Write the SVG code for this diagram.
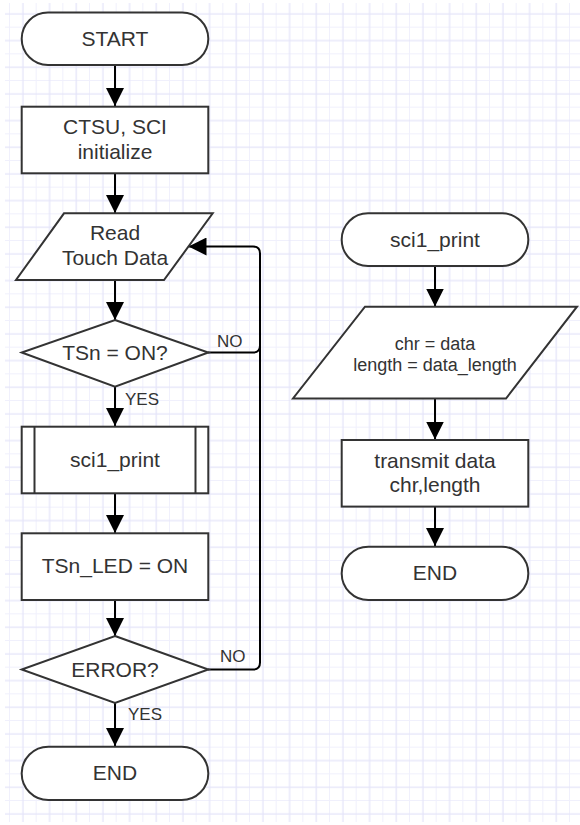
<svg xmlns="http://www.w3.org/2000/svg" width="580" height="825" viewBox="0 0 580 825">
<style>
.shape{fill:#ffffff;stroke:#333333;stroke-width:2;}
.conn{fill:none;stroke:#000000;stroke-width:2;}
.t{font-family:"Liberation Sans",Arial,sans-serif;font-size:21px;fill:#333333;text-anchor:middle;}
.ts{font-family:"Liberation Sans",Arial,sans-serif;font-size:18px;fill:#333333;text-anchor:middle;}
.lbl{font-family:"Liberation Sans",Arial,sans-serif;font-size:17px;fill:#333333;}
</style>
<defs>
<pattern id="grid" patternUnits="userSpaceOnUse" x="9" y="0" width="26.667" height="26.667">
<rect x="0" y="0" width="1" height="26.667" fill="#f0f0fc"/>
<rect x="0" y="0" width="26.667" height="1" fill="#f0f0fc"/>
<rect x="13.333" y="0" width="1.2" height="26.667" fill="#e4e4f9"/>
<rect x="0" y="13.333" width="26.667" height="1.2" fill="#e4e4f9"/>
</pattern>
<marker id="arr" markerUnits="userSpaceOnUse" markerWidth="18" markerHeight="18" viewBox="0 0 16 16" refX="16" refY="8" orient="auto">
<path d="M0,0 L16,8 L0,16 Z" fill="#000000"/>
</marker>
</defs>
<rect x="0" y="0" width="580" height="825" fill="#ffffff"/>
<rect x="5" y="3" width="575" height="819" fill="url(#grid)"/>

<g id="connectors">
<line class="conn" x1="115" y1="65" x2="115" y2="106" marker-end="url(#arr)"/>
<line class="conn" x1="115" y1="173" x2="115" y2="213" marker-end="url(#arr)"/>
<line class="conn" x1="115" y1="280" x2="115" y2="320" marker-end="url(#arr)"/>
<line class="conn" x1="115" y1="387" x2="115" y2="426" marker-end="url(#arr)"/>
<line class="conn" x1="115" y1="493" x2="115" y2="533" marker-end="url(#arr)"/>
<line class="conn" x1="115" y1="600" x2="115" y2="636" marker-end="url(#arr)"/>
<line class="conn" x1="115" y1="703" x2="115" y2="746" marker-end="url(#arr)"/>
<path class="conn" d="M208,669.5 H253 Q260,669.5 260,662.5 V253.5 Q260,246.5 253,246.5 H188.5" marker-end="url(#arr)"/>
<path class="conn" d="M208,352.5 H253 Q260,352.5 260,345.5"/>
<line class="conn" x1="435" y1="266" x2="435" y2="306.5" marker-end="url(#arr)"/>
<line class="conn" x1="435" y1="398.5" x2="435" y2="439.5" marker-end="url(#arr)"/>
<line class="conn" x1="435" y1="506.5" x2="435" y2="546" marker-end="url(#arr)"/>
<text class="lbl" x="217" y="346.5">NO</text>
<text class="lbl" x="125" y="405">YES</text>
<text class="lbl" x="220" y="661.5">NO</text>
<text class="lbl" x="128" y="720">YES</text>
</g>

<g id="start">
<rect class="shape" x="21.7" y="12.5" width="186.6" height="52.5" rx="26.25" ry="26.25"/>
<text class="t" x="115" y="45.8">START</text>
</g>
<g id="init">
<rect class="shape" x="21.7" y="106.7" width="186.6" height="66.6"/>
<text class="t" x="115" y="133.5">CTSU, SCI</text>
<text class="t" x="115" y="158.5">initialize</text>
</g>
<g id="read">
<polygon class="shape" points="64,213.3 212.7,213.3 164,280 16,280"/>
<text class="t" x="115" y="240">Read</text>
<text class="t" x="115" y="264.5">Touch Data</text>
</g>
<g id="tsn_on">
<polygon class="shape" points="115,320 208.3,352.5 115,386.7 21.7,352.5"/>
<text class="t" x="115" y="359.5">TSn = ON?</text>
</g>
<g id="sci1_call">
<rect class="shape" x="21.7" y="426.7" width="186.6" height="66.6"/>
<line class="shape" x1="34.5" y1="426.7" x2="34.5" y2="493.3"/>
<line class="shape" x1="195.5" y1="426.7" x2="195.5" y2="493.3"/>
<text class="t" x="115" y="467">sci1_print</text>
</g>
<g id="led">
<rect class="shape" x="21.7" y="533.3" width="186.6" height="66.7"/>
<text class="t" x="115" y="573.3">TSn_LED = ON</text>
</g>
<g id="error">
<polygon class="shape" points="115,636 208.3,669.5 115,703 21.7,669.5"/>
<text class="t" x="115" y="676.5">ERROR?</text>
</g>
<g id="end_main">
<rect class="shape" x="21.7" y="746.7" width="186.6" height="53.3" rx="26.6" ry="26.6"/>
<text class="t" x="115" y="780">END</text>
</g>

<g id="sci1_start">
<rect class="shape" x="341.7" y="213.3" width="186.6" height="52.7" rx="26.3" ry="26.3"/>
<text class="t" x="435" y="246.7">sci1_print</text>
</g>
<g id="assign">
<polygon class="shape" points="365,306.7 577,306.7 506,398.5 293,398.5"/>
<text class="ts" x="435" y="349.5">chr = data</text>
<text class="ts" x="435" y="370.5">length = data_length</text>
</g>
<g id="transmit">
<rect class="shape" x="341.7" y="440" width="186.6" height="66.6"/>
<text class="t" x="435" y="468.3">transmit data</text>
<text class="t" x="435" y="491.7">chr,length</text>
</g>
<g id="end_sub">
<rect class="shape" x="341.7" y="546.7" width="186.6" height="53.3" rx="26.6" ry="26.6"/>
<text class="t" x="435" y="580">END</text>
</g>
</svg>
